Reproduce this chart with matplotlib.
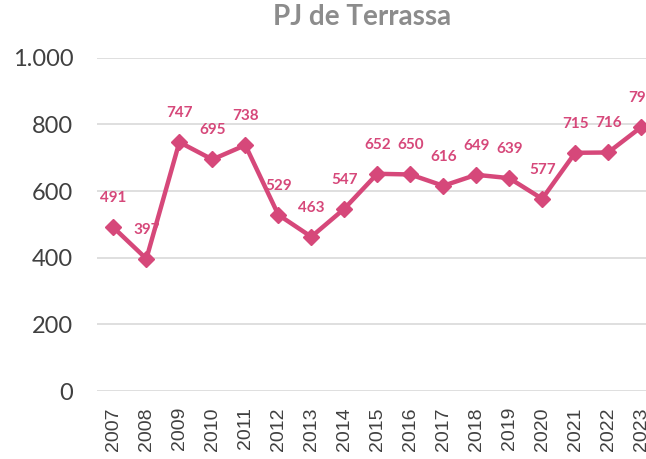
import matplotlib.pyplot as plt

years = ["2007", "2008", "2009", "2010", "2011", "2012", "2013", "2014", "2015",
         "2016", "2017", "2018", "2019", "2020", "2021", "2022", "2023"]
values = [491, 397, 747, 695, 738, 529, 463, 547, 652, 650, 616, 649, 639, 577, 715, 716, 792]
y_ticks = [0, 200, 400, 600, 800, 1000]
y_labels = ["0", "200", "400", "600", "800", "1.000"]

color = "#D6487A"

fig = plt.figure(figsize=(6.46, 4.59), dpi=100)
ax = fig.add_axes([0.150, 0.148, 0.868, 0.726])

x = list(range(len(years)))
ax.plot(x, values, color=color, linewidth=3.2, marker="D", markersize=8, zorder=3)

for xi, v in zip(x, values):
    ax.annotate(str(v), (xi, v), xytext=(0, 21), textcoords="offset points",
                ha="center", va="center", fontsize=11, fontweight="bold",
                color=color, family="Lato", zorder=2)

ax.set_xlim(-0.5, len(years) - 0.5)
ax.set_ylim(0, 1000)
ax.set_yticks(y_ticks)
ax.set_yticklabels(y_labels, family="Lato", fontsize=17, color="#404040")
ax.set_xticks(x)
ax.set_xticklabels(years, rotation=90, family="Liberation Sans", fontsize=14, color="#404040")
ax.tick_params(length=0)
ax.tick_params(axis="y", pad=17)
ax.tick_params(axis="x", pad=11.5)
ax.grid(axis="y", color="#D9D9D9", linewidth=1.2)
ax.set_axisbelow(True)
for s in ax.spines.values():
    s.set_visible(False)

fig.text(0.561, 0.962, "PJ de Terrassa", ha="center", va="center",
         family="Lato", fontweight="bold", fontsize=20, color="#8C8C8C")

fig.savefig("out.png", dpi=100)
